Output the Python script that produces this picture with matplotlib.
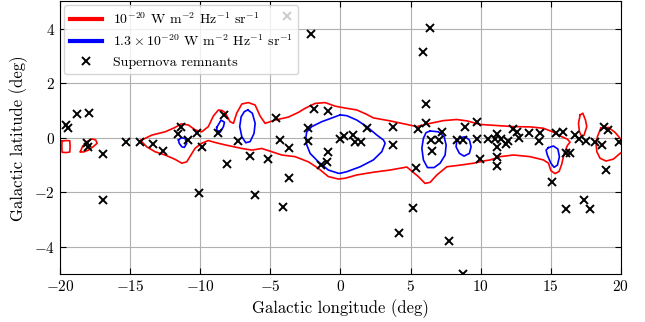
import matplotlib
matplotlib.use('Agg')
import matplotlib.pyplot as plt
from matplotlib.lines import Line2D

plt.rcParams['font.family'] = 'serif'
plt.rcParams['font.serif'] = ['cmr10']
plt.rcParams['mathtext.fontset'] = 'cm'
plt.rcParams['axes.formatter.use_mathtext'] = True
plt.rcParams['axes.unicode_minus'] = True

# outer contour (1e-20), main band
red_main_l = [-14.25, -13.45, -12.50, -11.79, -11.36, -10.84, -10.36, -9.89, -9.42, -9.06,
              -8.70, -8.44, -8.22, -7.87, -7.63, -7.39, -7.03, -6.56, -6.08, -5.73,
              -5.37, -4.66, -3.71, -3.00, -2.52, -1.80, -1.09, -0.38, 0.34, 1.17,
              1.83, 2.35, 3.54, 4.74, 5.45, 6.40, 7.35, 8.30, 9.02, 9.96,
              11.16, 12.34, 13.53, 14.48, 15.19, 15.79, 16.19, 16.38,
              16.19, 15.96, 15.79, 15.60, 15.31, 15.01, 14.84, 14.48, 13.53, 12.34,
              11.39, 10.68, 10.20, 9.49, 8.54, 7.59, 6.88, 6.40, 6.04, 5.56,
              4.74, 3.54, 2.35, 1.17, 0.34, -0.14, -0.86, -1.57, -2.28, -3.23,
              -4.18, -4.89, -5.61, -6.32, -7.03, -8.22, -8.94, -9.42, -9.89, -10.36,
              -10.96, -11.31, -11.79, -12.50, -13.22, -13.81, -14.25]
red_main_b = [-0.10, 0.10, 0.22, 0.38, 0.51, 0.47, 0.29, 0.22, 0.41, 0.80,
              1.02, 1.00, 0.92, 0.59, 0.53, 0.91, 1.24, 1.29, 1.20, 0.80,
              0.53, 0.65, 0.76, 0.93, 1.08, 1.26, 1.29, 1.16, 1.09, 1.02,
              0.87, 0.73, 0.62, 0.49, 0.41, 0.53, 0.63, 0.67, 0.62, 0.49,
              0.45, 0.41, 0.40, 0.35, 0.21, 0.04, -0.05, -0.16,
              -0.28, -0.57, -0.96, -1.23, -1.31, -1.20, -0.93, -0.81, -0.69, -0.63,
              -0.69, -0.81, -0.85, -0.93, -1.00, -1.06, -1.36, -1.63, -1.67, -1.42,
              -1.07, -1.18, -1.26, -1.36, -1.48, -1.51, -1.42, -1.12, -0.88, -0.69,
              -0.63, -0.51, -0.39, -0.45, -0.39, -0.26, -0.17, -0.10, -0.20, -0.38,
              -0.88, -0.93, -0.79, -0.63, -0.51, -0.33, -0.10]

red_a_l = [-19.85, -19.55, -19.30, -19.28, -19.30, -19.55, -19.85, -19.87, -19.85]
red_a_b = [-0.12, -0.10, -0.11, -0.30, -0.52, -0.54, -0.53, -0.30, -0.12]

red_b_l = [-18.54, -18.40, -18.09, -17.73, -17.45, -17.35, -17.62, -17.97, -18.33, -18.54]
red_b_b = [-0.51, -0.32, -0.14, -0.04, -0.08, -0.20, -0.32, -0.45, -0.52, -0.51]

red_c_l = [17.10, 17.29, 17.48, 17.57, 17.38, 17.22, 17.05, 16.98, 17.10]
red_c_b = [0.84, 0.90, 0.65, 0.41, 0.10, 0.04, 0.22, 0.53, 0.84]

red_d_l = [18.57, 19.12, 19.59, 19.95, 20.3, 20.3, 19.95, 19.47, 18.95, 18.52, 18.29, 18.24, 18.33, 18.57]
red_d_b = [0.35, 0.38, 0.20, -0.02, -0.20, -0.45, -0.57, -0.78, -0.85, -0.75, -0.51, -0.26, 0.04, 0.35]

# inner contour (1.3e-20)
blue_a_l = [-11.55, -11.36, -11.08, -10.96, -11.13, -11.31, -11.50, -11.55]
blue_a_b = [-0.08, 0.00, -0.02, -0.20, -0.35, -0.33, -0.20, -0.08]

blue_b_l = [-8.82, -8.51, -8.27, -8.34, -8.58, -8.82, -8.82]
blue_b_b = [0.38, 0.65, 0.57, 0.41, 0.20, 0.29, 0.38]

blue_c_l = [-6.60, -6.28, -6.08, -6.16, -6.44, -6.75, -7.03, -7.18, -7.08, -6.85, -6.60]
blue_c_b = [1.02, 0.90, 0.53, 0.16, -0.14, -0.18, 0.04, 0.41, 0.77, 0.96, 1.02]

blue_d_l = [-0.02, 0.46, 1.17, 1.88, 2.60, 3.07, 3.19, 2.95, 2.35, 1.41, 0.46, -0.02,
            -0.14, -0.86, -1.57, -2.16, -2.40, -2.47, -2.40, -2.04, -1.33, -0.38, -0.02]
blue_d_b = [0.84, 0.81, 0.65, 0.41, 0.10, -0.08, -0.20, -0.51, -0.81, -1.06, -1.24, -1.30,
            -1.30, -1.18, -0.88, -0.57, -0.26, -0.02, 0.22, 0.41, 0.59, 0.77, 0.84]

blue_e_l = [6.40, 6.99, 7.40, 7.54, 7.47, 7.11, 6.68, 6.21, 5.92, 5.81, 5.92, 6.11, 6.40]
blue_e_b = [0.25, 0.22, 0.04, -0.26, -0.63, -0.93, -1.09, -1.09, -0.81, -0.38, -0.02, 0.19, 0.25]

blue_f_l = [8.54, 8.89, 9.20, 9.32, 9.20, 8.82, 8.49, 8.25, 8.30, 8.54]
blue_f_b = [0.00, 0.04, -0.08, -0.33, -0.57, -0.67, -0.57, -0.33, -0.12, 0.00]

blue_g_l = [14.84, 15.19, 15.51, 15.62, 15.48, 15.24, 15.01, 14.76, 14.67, 14.84]
blue_g_b = [-0.36, -0.30, -0.41, -0.69, -1.00, -1.08, -0.93, -0.63, -0.45, -0.36]

red_contours = [(red_main_l, red_main_b), (red_a_l, red_a_b), (red_b_l, red_b_b),
                (red_c_l, red_c_b), (red_d_l, red_d_b)]
blue_contours = [(blue_a_l, blue_a_b), (blue_b_l, blue_b_b), (blue_c_l, blue_c_b),
                 (blue_d_l, blue_d_b), (blue_e_l, blue_e_b), (blue_f_l, blue_f_b),
                 (blue_g_l, blue_g_b)]

# supernova remnants (l, b)
snr_l = [-3.78, -2.07, 6.40, 5.92, 6.09, -19.59, -19.40, -18.80, -17.92, -18.09,
         -18.00, -16.90, -16.90, -15.31, -14.29, -13.38, -12.62, -11.60, -11.34, -10.86,
         -10.24, -9.90, -10.06, -8.74, -8.27, -8.06, -7.28, -6.44, -6.08, -5.16,
         -4.61, -4.29, -3.69, -3.69, -4.07, -2.33, -2.28, -1.86, -0.90, -0.88,
         -0.97, -1.38, -0.06, 0.26, 0.88, 1.01, 1.46, 1.88, 3.78, 3.76,
         5.51, 6.11, 5.40, 6.45, 7.06, 6.50, 7.22, 8.30, 8.75, 8.89,
         9.73, 9.73, 9.96, 10.56, 11.03, 11.20, 11.43, 11.16, 11.16, 11.16,
         11.84, 11.98, 12.28, 12.57, 12.77, 13.47, 14.24, 14.19, 15.08, 15.39,
         15.91, 16.06, 16.41, 16.74, 17.03, 17.52, 18.15, 18.64, 18.81, 19.12,
         18.95, 19.89, 5.21, 4.19, 7.75, 8.73, 16.10, 17.38, 17.81]
snr_b = [4.47, 3.81, 4.03, 3.13, 1.23, 0.47, 0.35, 0.87, 0.90, -0.20,
         -0.32, -0.59, -2.28, -0.16, -0.17, -0.23, -0.50, 0.14, 0.40, -0.08,
         0.19, -0.32, -2.03, 0.16, 0.84, -0.96, -0.12, -0.67, -2.10, -0.78,
         0.73, -0.08, -0.36, -1.48, -2.52, 0.35, -0.12, 1.05, 0.98, -0.51,
         -0.90, -1.00, -0.05, 0.05, 0.10, -0.14, -0.14, 0.35, 0.41, -0.28,
         0.33, 0.53, -1.12, -0.08, -0.08, -0.48, 0.20, -0.08, -0.08, 0.41,
         0.59, -0.06, -0.78, -0.03, -0.03, 0.13, -0.04, -0.34, -0.69, -1.03,
         -0.21, -0.12, 0.31, 0.23, 0.01, 0.16, 0.16, -0.12, -1.60, 0.19,
         0.21, -0.54, -0.54, 0.10, -0.03, -0.12, -0.14, -0.28, 0.38, 0.30,
         -1.18, -0.14, -2.58, -3.50, -3.77, -4.99, -2.61, -2.28, -2.61]

legend_labels = [r'$10^{-20}$ W m$^{-2}$ Hz$^{-1}$ sr$^{-1}$',
                 r'$1.3\times10^{-20}$ W m$^{-2}$ Hz$^{-1}$ sr$^{-1}$',
                 'Supernova remnants']

fig = plt.figure(figsize=(6.45, 3.22), dpi=100)
ax = fig.add_axes([0.093, 0.148, 0.8695, 0.848])

for cl, cb in red_contours:
    ax.plot(cl, cb, color='red', lw=1.2, zorder=3)
for cl, cb in blue_contours:
    ax.plot(cl, cb, color='blue', lw=1.2, zorder=3)

ax.plot(snr_l, snr_b, 'x', color='black', ms=5.5, mew=1.4, zorder=4)

ax.set_xlim(-20, 20)
ax.set_ylim(-5, 5)
ax.set_xticks([-20, -15, -10, -5, 0, 5, 10, 15, 20])
ax.set_yticks([-4, -2, 0, 2, 4])
ax.grid(True, color='#b0b0b0', lw=0.8)
ax.set_axisbelow(True)
ax.tick_params(direction='in', top=True, right=True, labelsize=11, length=4)
ax.set_xlabel('Galactic longitude (deg)', fontsize=12)
ax.set_ylabel('Galactic latitude (deg)', fontsize=12)

handles = [Line2D([], [], color='red', lw=3),
           Line2D([], [], color='blue', lw=3),
           Line2D([], [], ls='none', marker='x', color='black', ms=5.5, mew=1.4)]
leg = ax.legend(handles, legend_labels, loc='upper left', fontsize=10,
                borderaxespad=0.3, framealpha=0.8, handlelength=2.3)
leg.set_zorder(10)

fig.savefig('out.png', dpi=100)
